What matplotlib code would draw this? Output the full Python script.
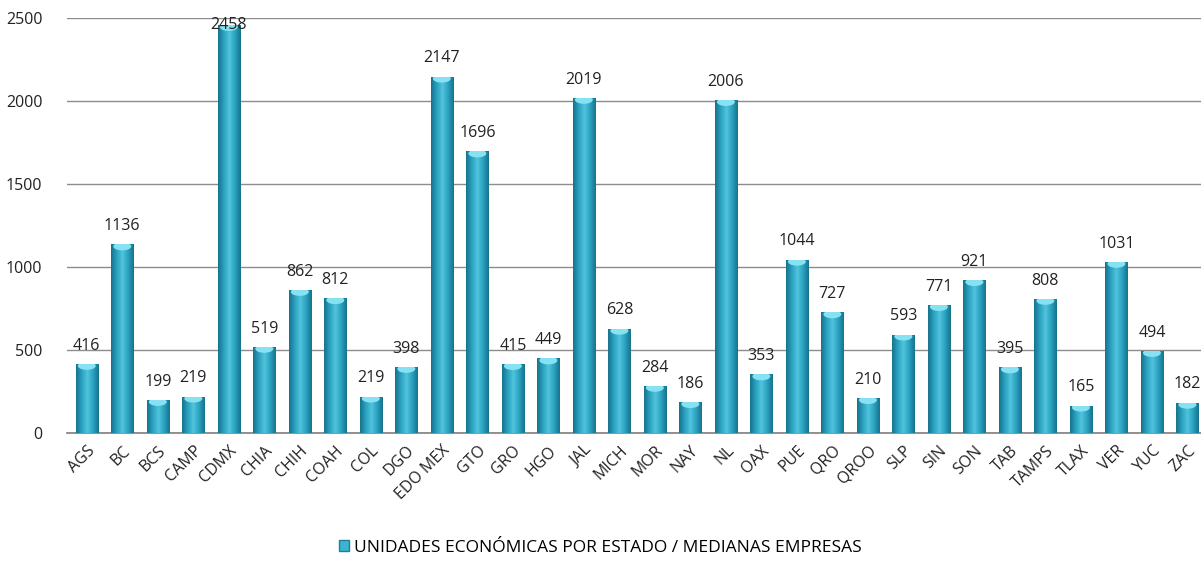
import numpy as np
import matplotlib
matplotlib.use('Agg')
import matplotlib.pyplot as plt
from matplotlib.colors import LinearSegmentedColormap
from matplotlib.patches import Ellipse, Patch

# Unidades económicas (medianas empresas) por estado
states = ['AGS', 'BC', 'BCS', 'CAMP', 'CDMX', 'CHIA', 'CHIH', 'COAH', 'COL', 'DGO',
          'EDO MEX', 'GTO', 'GRO', 'HGO', 'JAL', 'MICH', 'MOR', 'NAY', 'NL', 'OAX',
          'PUE', 'QRO', 'QROO', 'SLP', 'SIN', 'SON', 'TAB', 'TAMPS', 'TLAX', 'VER',
          'YUC', 'ZAC']
units = [416, 1136, 199, 219, 2458, 519, 862, 812, 219, 398,
         2147, 1696, 415, 449, 2019, 628, 284, 186, 2006, 353,
         1044, 727, 210, 593, 771, 921, 395, 808, 165, 1031,
         494, 182]
y_ticks = [0, 500, 1000, 1500, 2000, 2500]
legend_label = 'UNIDADES ECONÓMICAS POR ESTADO / MEDIANAS EMPRESAS'

plt.rcParams['font.family'] = ['Open Sans', 'DejaVu Sans']

fig = plt.figure(figsize=(12.01, 5.63), dpi=100)
ax = fig.add_axes([0.056, 0.231, 0.946, 0.737])

x = np.arange(len(states))
bars = ax.bar(x, units, width=0.63, color='#2a9dbb', zorder=2)

# cylinder-like shading: dark edges, light centre
shade = LinearSegmentedColormap.from_list(
    'cyl', ['#17728c', '#2aa2c0', '#52c4dd', '#2aa2c0', '#17728c'])
grad = np.linspace(0, 1, 64).reshape(1, -1)
for b in bars:
    x0, w, h = b.get_x(), b.get_width(), b.get_height()
    im = ax.imshow(grad, cmap=shade, aspect='auto', extent=(x0, x0 + w, 0, h),
                   zorder=3, interpolation='bilinear')
    im.set_clip_path(b)
    # light cap just under the top edge
    cap = Ellipse((x0 + w / 2, h - 12), w * 0.8, 48, color='#86e2f3',
                  zorder=4, lw=0)
    ax.add_patch(cap)
    cap.set_clip_path(b)
    # labels that would run past the top sit on the bar instead
    ty = min(h + 62, 2412)
    ax.text(x0 + w / 2, ty, f'{int(h)}', ha='center', va='bottom',
            fontsize=11.5, color='#222222', zorder=5, clip_on=False)

ax.set_xlim(-0.55, 31.45)
ax.set_ylim(0, 2500)
ax.set_yticks(y_ticks)
ax.set_yticklabels([str(t) for t in y_ticks], fontsize=11.5, color='#222222')
ax.set_xticks(x)
ax.set_xticklabels(states, rotation=45, ha='right', rotation_mode='anchor',
                   fontsize=11.5, color='#222222')
ax.tick_params(axis='both', length=0, pad=7)
ax.tick_params(axis='y', pad=18)
ax.yaxis.grid(True, color='#8c8c8c', lw=1.0, zorder=0)
ax.set_axisbelow(True)
for side in ['top', 'right', 'left']:
    ax.spines[side].set_visible(False)
ax.spines['bottom'].set_color('#7f7f7f')
ax.spines['bottom'].set_linewidth(1.2)

handle = Patch(facecolor='#3bb4d2', edgecolor='#1d7f9b')
fig.legend([handle], [legend_label], loc='center', bbox_to_anchor=(0.5, 0.027),
           frameon=False, fontsize=12.5, handlelength=0.6, handleheight=0.6,
           handletextpad=0.3)

fig.savefig('out.png', dpi=100)
